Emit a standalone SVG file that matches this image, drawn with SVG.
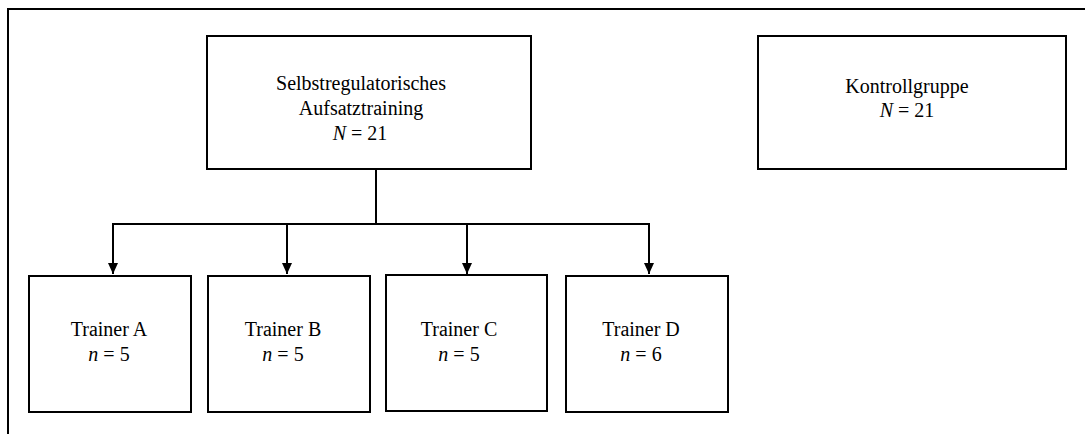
<svg xmlns="http://www.w3.org/2000/svg" width="1085" height="434" viewBox="0 0 1085 434">
  <style>
    .box { fill: #ffffff; stroke: #000000; stroke-width: 2; }
    .frame { fill: none; stroke: #000000; stroke-width: 2; }
    .link { fill: none; stroke: #000000; stroke-width: 2; }
    .arrow { marker-end: url(#arrowhead); }
    text { font-family: "Liberation Serif", "Times New Roman", serif; font-size: 20px; fill: #000000; text-anchor: middle; }
    .it { font-style: italic; }
  </style>
  <defs>
    <!-- filled triangular head, tip at the end of the line -->
    <marker id="arrowhead" markerWidth="11" markerHeight="10" refX="11" refY="5" orient="auto" markerUnits="userSpaceOnUse" viewBox="0 0 11 10">
      <path d="M0,0 L11,5 L0,10 Z" fill="#000000"/>
    </marker>
  </defs>

  <rect width="1085" height="434" fill="#ffffff"/>

  <!-- outer frame: top and left edges -->
  <path class="frame" d="M8,434 L8,9 L1085,9"/>

  <!-- connectors -->
  <g id="connectors">
    <path class="link" d="M376,169 L376,224"/>
    <path class="link" d="M112,224 L650,224"/>
    <path class="link arrow" d="M113,223 L113,274"/>
    <path class="link arrow" d="M287,224 L287,274"/>
    <path class="link arrow" d="M467,224 L467,274"/>
    <path class="link arrow" d="M649,223 L649,274"/>
  </g>

  <g id="training">
    <rect class="box" x="207" y="36" width="324" height="133"/>
    <text x="361" y="90">Selbstregulatorisches</text>
    <text x="361" y="115">Aufsatztraining</text>
    <text x="360" y="140"><tspan class="it">N</tspan> = 21</text>
  </g>

  <g id="kontrollgruppe">
    <rect class="box" x="758" y="36" width="308" height="133"/>
    <text x="907" y="93">Kontrollgruppe</text>
    <text x="907" y="117"><tspan class="it">N</tspan> = 21</text>
  </g>

  <g id="trainer-a">
    <rect class="box" x="29" y="276" width="162" height="136"/>
    <text x="109" y="336">Trainer A</text>
    <text x="109" y="361"><tspan class="it">n</tspan> = 5</text>
  </g>

  <g id="trainer-b">
    <rect class="box" x="208" y="276" width="162" height="136"/>
    <text x="283" y="336">Trainer B</text>
    <text x="283" y="361"><tspan class="it">n</tspan> = 5</text>
  </g>

  <g id="trainer-c">
    <rect class="box" x="386" y="275" width="161" height="136"/>
    <text x="459" y="336">Trainer C</text>
    <text x="459" y="361"><tspan class="it">n</tspan> = 5</text>
  </g>

  <g id="trainer-d">
    <rect class="box" x="566" y="276" width="162" height="136"/>
    <text x="641" y="336">Trainer D</text>
    <text x="641" y="361"><tspan class="it">n</tspan> = 6</text>
  </g>
</svg>
